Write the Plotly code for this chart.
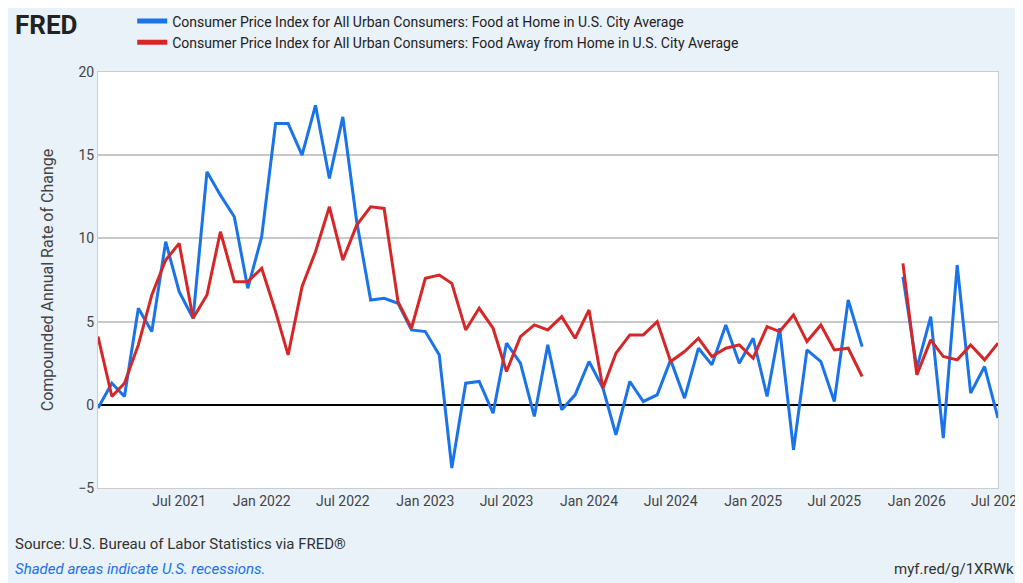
import plotly.graph_objects as go
import pandas as pd

dates = pd.date_range("2021-01-01", "2026-07-01", freq="MS")
food_home = [-0.2,1.3,0.5,5.8,4.4,9.8,6.8,5.2,14.0,12.6,11.3,7.0,
             10.1,16.9,16.9,15.0,18.0,13.6,17.3,11.0,6.3,6.4,6.1,4.5,
             4.4,3.0,-3.8,1.3,1.4,-0.5,3.7,2.5,-0.7,3.6,-0.3,0.6,
             2.6,1.0,-1.8,1.4,0.2,0.6,2.7,0.4,3.4,2.4,4.8,2.5,
             4.0,0.5,4.6,-2.7,3.3,2.6,0.2,6.3,3.5,None,None,7.7,
             2.2,5.3,-2.0,8.4,0.7,2.3,-0.8]
food_away = [4.1,0.5,1.3,3.6,6.6,8.7,9.7,5.2,6.6,10.4,7.4,7.4,
             8.2,5.6,3.0,7.1,9.2,11.9,8.7,10.8,11.9,11.8,6.2,4.6,
             7.6,7.8,7.3,4.5,5.8,4.6,2.0,4.1,4.8,4.5,5.3,4.0,
             5.7,1.0,3.1,4.2,4.2,5.0,2.6,3.2,4.0,2.9,3.4,3.6,
             2.8,4.7,4.4,5.4,3.8,4.8,3.3,3.4,1.7,None,None,8.5,
             1.8,3.9,2.9,2.7,3.6,2.7,3.7]
tick_vals = ["2021-07-01","2022-01-01","2022-07-01","2023-01-01","2023-07-01","2024-01-01",
             "2024-07-01","2025-01-01","2025-07-01","2026-01-01","2026-07-01"]
tick_text = ["Jul 2021","Jan 2022","Jul 2022","Jan 2023","Jul 2023","Jan 2024",
             "Jul 2024","Jan 2025","Jul 2025","Jan 2026","Jul 2026"]

fig = go.Figure()
fig.add_trace(go.Scatter(x=dates, y=food_home, mode="lines", line=dict(color="#1a73e8", width=3),
    name="Consumer Price Index for All Urban Consumers: Food at Home in U.S. City Average"))
fig.add_trace(go.Scatter(x=dates, y=food_away, mode="lines", line=dict(color="#d62728", width=3),
    name="Consumer Price Index for All Urban Consumers: Food Away from Home in U.S. City Average"))

fig.update_layout(
    width=1023, height=583,
    paper_bgcolor="#e9f1f9", plot_bgcolor="white",
    margin=dict(l=90, r=33, t=64, b=103, autoexpand=False),
    font=dict(family="Roboto", size=14, color="#333"),
    showlegend=True,
    legend=dict(x=0.038, y=1.16, xanchor="left", yanchor="top", bgcolor="rgba(0,0,0,0)",
                font=dict(family="Roboto", size=14, color="#222"), tracegroupgap=0,
                itemwidth=30, itemsizing="constant"),
    xaxis=dict(range=["2021-01-01","2026-07-01"], tickvals=tick_vals, ticktext=tick_text,
               showgrid=False, showline=True, linecolor="#ccc", ticks="", mirror=True,
               tickfont=dict(size=14, color="#444")),
    yaxis=dict(range=[-5, 20], tickvals=[-5,0,5,10,15,20], showgrid=True, gridcolor="#c8c8c8",
               gridwidth=1.5, zeroline=True, zerolinecolor="black", zerolinewidth=2,
               showline=True, linecolor="#ccc", mirror=True,
               title=dict(text="Compounded Annual Rate of Change", font=dict(size=16, color="#444"),
                          standoff=20),
               tickfont=dict(size=14, color="#444")),
)
fig.add_annotation(x=-0.095, y=1.155, xref="paper", yref="paper", xanchor="left", yanchor="top",
                   text="<b>FRED</b>", showarrow=False, font=dict(family="Roboto", size=26, color="#222"))
fig.add_annotation(x=-0.095, y=-0.135, xref="paper", yref="paper", xanchor="left", yanchor="middle",
                   text="Source: U.S. Bureau of Labor Statistics via FRED®", showarrow=False,
                   font=dict(size=15, color="#333"))
fig.add_annotation(x=-0.095, y=-0.195, xref="paper", yref="paper", xanchor="left", yanchor="middle",
                   text="<i>Shaded areas indicate U.S. recessions.</i>", showarrow=False,
                   font=dict(size=15, color="#1a73e8"))
fig.add_annotation(x=1.02, y=-0.195, xref="paper", yref="paper", xanchor="right", yanchor="middle",
                   text="myf.red/g/1XRWk", showarrow=False, font=dict(size=15, color="#333"))
fig.write_html("out.html")
